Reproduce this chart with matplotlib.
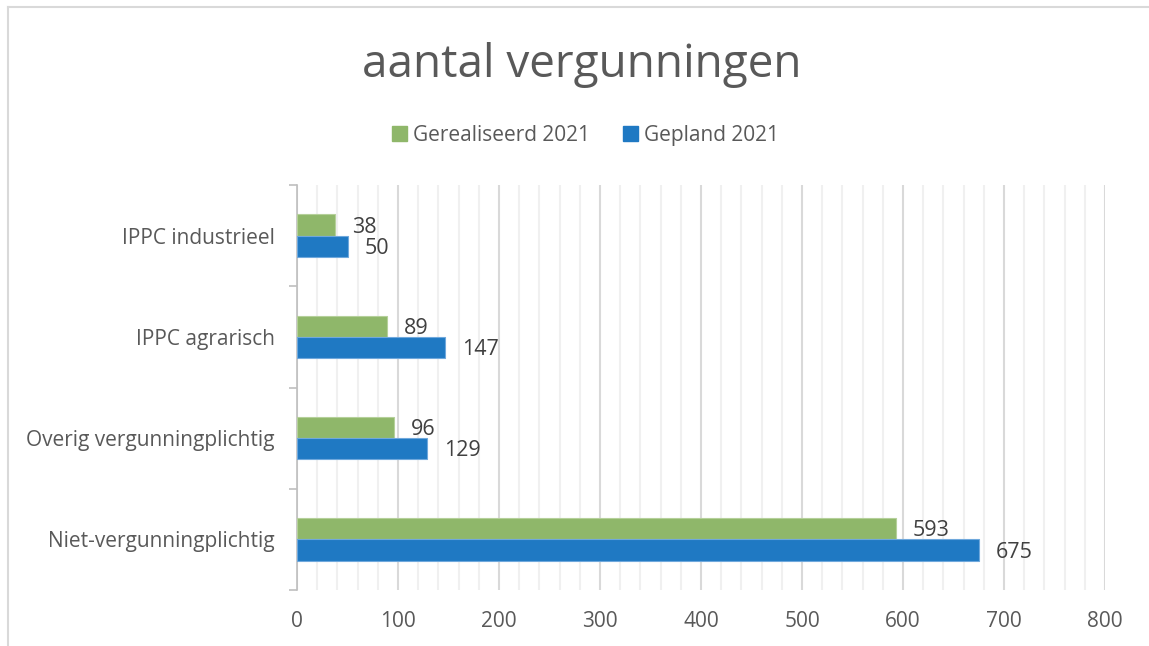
import numpy as np
import matplotlib.pyplot as plt
from matplotlib.lines import Line2D

plt.rcParams['font.family'] = ['Open Sans', 'DejaVu Sans']

# data
categories = ['Niet-vergunningplichtig', 'Overig vergunningplichtig', 'IPPC agrarisch', 'IPPC industrieel']
gerealiseerd = [593, 96, 89, 38]
gepland = [675, 129, 147, 50]
series_names = ['Gerealiseerd 2021', 'Gepland 2021']

green = '#8fb76a'
blue = '#1f79c3'
txt = '#595959'
lbl = '#404040'

fig = plt.figure(figsize=(11.49, 6.46), dpi=100)
ax = fig.add_axes([0.2585, 0.0867, 0.7032, 0.6269])

y = np.arange(len(categories))
h = 0.21
ax.barh(y + h / 2, gerealiseerd, height=h, color=green, edgecolor='#b5d09a', linewidth=0.8, label=series_names[0], zorder=3)
ax.barh(y - h / 2, gepland, height=h, color=blue, edgecolor='#6fa8dc', linewidth=0.8, label=series_names[1], zorder=3)

for yi, v in zip(y, gerealiseerd):
    ax.annotate(str(v), (v, yi + h / 2), xytext=(12, -1.5), textcoords='offset points',
                va='center', ha='left', fontsize=15.5, color=lbl)
for yi, v in zip(y, gepland):
    ax.annotate(str(v), (v, yi - h / 2), xytext=(12, -1.5), textcoords='offset points',
                va='center', ha='left', fontsize=15.5, color=lbl)

ax.set_xlim(0, 800)
ax.set_ylim(-0.5, 3.5)
ax.set_xticks(np.arange(0, 801, 100))
ax.set_xticks(np.arange(0, 801, 20), minor=True)
ax.grid(axis='x', which='major', color='#d9d9d9', linewidth=1.5, zorder=0)
ax.grid(axis='x', which='minor', color='#f0f0f0', linewidth=1.5, zorder=0)
ax.tick_params(axis='x', which='both', length=0, labelsize=15, labelcolor=txt, pad=15)

ax.set_yticks(np.arange(-0.5, 3.6, 1.0))
ax.set_yticklabels([])
ax.set_yticks(y, minor=True)
ax.set_yticklabels(categories, minor=True)
ax.tick_params(axis='y', which='major', length=6, color='#bfbfbf', width=1.2)
ax.tick_params(axis='y', which='minor', length=0, labelsize=15, labelcolor=txt, pad=16)

for s in ['top', 'right', 'bottom']:
    ax.spines[s].set_visible(False)
ax.spines['left'].set_color('#bfbfbf')
ax.spines['left'].set_linewidth(1.2)

fig.text(0.506, 0.90, 'aantal vergunningen', ha='center', va='center', fontsize=33, color=txt)

handles = [plt.Rectangle((0, 0), 1, 1, color=green), plt.Rectangle((0, 0), 1, 1, color=blue)]
fig.legend(handles, series_names, loc='center', bbox_to_anchor=(0.5096, 0.791), ncol=2, frameon=False,
           fontsize=15, labelcolor=txt, handlelength=0.7, handleheight=0.7, handletextpad=0.3, columnspacing=1.6)

# outer chart border (top and left visible)
fig.add_artist(Line2D([0.007, 1.0], [0.989, 0.989], color='#d9d9d9', linewidth=1.5))
fig.add_artist(Line2D([0.007, 0.007], [0.0, 0.989], color='#d9d9d9', linewidth=1.5))

fig.savefig('out.png', dpi=100)
